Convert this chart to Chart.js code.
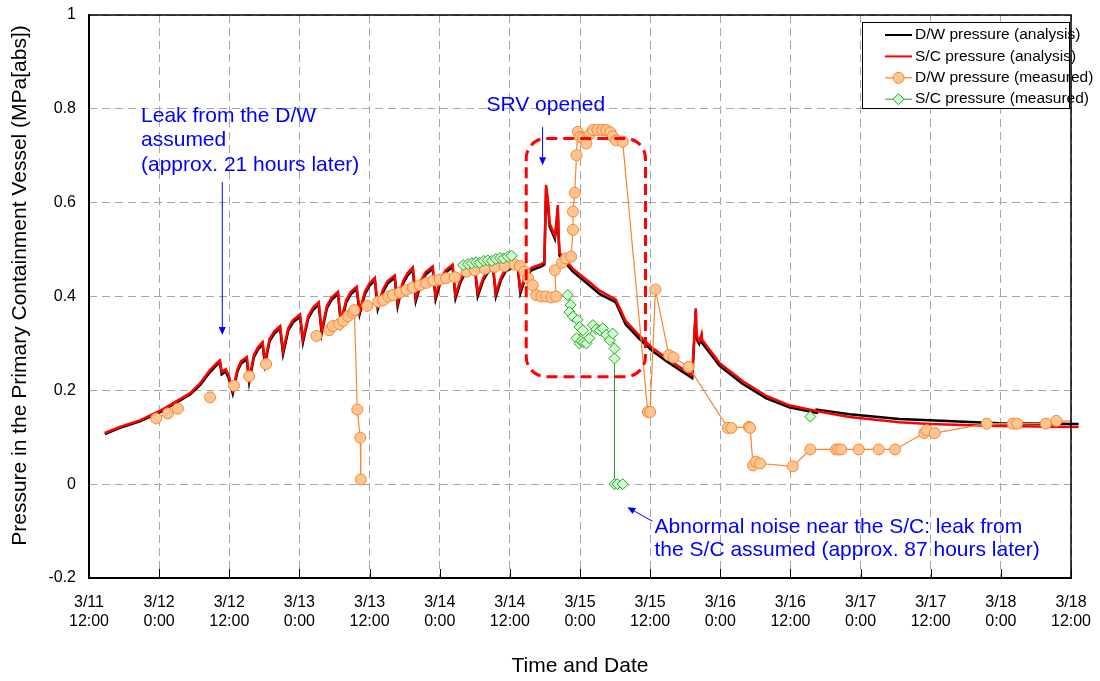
<!DOCTYPE html>
<html>
<head>
<meta charset="utf-8">
<title>PCV pressure</title>
<script src="https://cdn.jsdelivr.net/npm/chart.js@4.4.1/dist/chart.umd.min.js"></script>
<style>
  html, body { margin: 0; padding: 0; background: #fff; }
  #wrap { width: 1100px; height: 681px; }
</style>
</head>
<body>
<div id="wrap"><canvas id="pcvChart" width="1100" height="681"></canvas></div>
<script>
// time axis is hours after 3/11 12:00
const xTickLabels = [
  ['3/11', '12:00'], ['3/12', '0:00'], ['3/12', '12:00'], ['3/13', '0:00'], ['3/13', '12:00'],
  ['3/14', '0:00'], ['3/14', '12:00'], ['3/15', '0:00'], ['3/15', '12:00'], ['3/16', '0:00'],
  ['3/16', '12:00'], ['3/17', '0:00'], ['3/17', '12:00'], ['3/18', '0:00'], ['3/18', '12:00']
];
const yTickLabels = ['-0.2', '0', '0.2', '0.4', '0.6', '0.8', '1'];
const yTitle = 'Pressure in the Primary Containment Vessel (MPa[abs])';

// D/W pressure (analysis)
const dwCalcHours = [2.7, 5.3, 8.7, 12.1, 14.7, 17.3, 19.0, 20.7, 22.0, 22.4, 22.7, 23.4, 23.9,
  24.6, 25.4, 26.0, 27.0, 27.4, 28.2, 28.9, 29.7, 30.1, 30.9, 31.7, 32.7, 33.2, 34.1, 34.9, 36.1,
  36.6, 37.5, 38.3, 39.3, 39.8, 40.7, 41.5, 42.6, 43.1, 44.0, 44.8, 45.8, 46.3, 47.2, 48.0, 48.9,
  49.4, 50.3, 51.1, 52.3, 52.8, 53.7, 54.5, 55.4, 55.9, 56.8, 57.6, 58.8, 59.3, 60.2, 61.0, 62.2,
  62.7, 63.6, 64.4, 66.0, 66.5, 67.4, 68.2, 69.1, 69.6, 70.5, 71.3, 73.3, 73.8, 74.7, 75.7, 77.4, 77.9,
  78.2, 78.5, 78.8, 79.7, 80.0, 80.2, 80.3, 80.5, 82.7, 85.6, 87.4, 90.1, 91.8, 94.2, 96.4, 98.8, 101.0, 103.2,
  103.6, 103.8, 103.9, 104.1, 104.4, 104.8, 104.9, 107.9, 111.8, 115.9, 119.8, 124.4, 124.5, 130.1,
  138.6, 143.8, 155.7, 169.3];
const dwCalcMPa = [0.107, 0.12, 0.134, 0.153, 0.172, 0.191, 0.211, 0.239, 0.256, 0.259, 0.234, 0.24, 0.226,
  0.193, 0.24, 0.257, 0.266, 0.217, 0.27, 0.287, 0.298, 0.255, 0.305, 0.321, 0.332, 0.277, 0.328, 0.345, 0.357,
  0.302, 0.353, 0.371, 0.383, 0.321, 0.375, 0.393, 0.405, 0.341, 0.387, 0.405, 0.416, 0.362, 0.405, 0.423, 0.435,
  0.373, 0.41, 0.428, 0.44, 0.379, 0.427, 0.445, 0.457, 0.39, 0.429, 0.447, 0.459, 0.394, 0.433, 0.451, 0.463,
  0.396, 0.432, 0.45, 0.462, 0.4, 0.433, 0.451, 0.463, 0.4, 0.436, 0.454, 0.466, 0.407, 0.441, 0.456, 0.464, 0.468,
  0.63, 0.6, 0.55, 0.523, 0.556, 0.588, 0.536, 0.487, 0.454, 0.424, 0.405, 0.388, 0.341, 0.309, 0.284, 0.262, 0.244, 0.226,
  0.32, 0.37, 0.32, 0.305, 0.299, 0.314, 0.301, 0.252, 0.214, 0.183, 0.164, 0.152, 0.159, 0.149,
  0.139, 0.136, 0.13, 0.128];

// S/C pressure (analysis)
const scCalcHours = [2.7, 5.3, 8.7, 12.1, 14.7, 17.3, 19.0, 20.7, 22.0, 22.4, 22.7, 23.4, 23.9,
  24.6, 25.4, 26.0, 27.0, 27.4, 28.2, 28.9, 29.7, 30.1, 30.9, 31.7, 32.7, 33.2, 34.1, 34.9, 36.1,
  36.6, 37.5, 38.3, 39.3, 39.8, 40.7, 41.5, 42.6, 43.1, 44.0, 44.8, 45.8, 46.3, 47.2, 48.0, 48.9,
  49.4, 50.3, 51.1, 52.3, 52.8, 53.7, 54.5, 55.4, 55.9, 56.8, 57.6, 58.8, 59.3, 60.2, 61.0, 62.2,
  62.7, 63.6, 64.4, 66.0, 66.5, 67.4, 68.2, 69.1, 69.6, 70.5, 71.3, 73.3, 73.8, 74.7, 75.7, 77.4, 77.9,
  78.2, 78.5, 78.8, 79.7, 80.0, 80.2, 80.3, 80.5, 82.7, 85.6, 87.4, 90.1, 91.8, 94.2, 96.4, 98.8, 101.0, 103.2,
  103.6, 103.8, 103.9, 104.1, 104.4, 104.8, 104.9, 107.9, 111.8, 115.9, 119.8, 124.4, 130.1,
  138.6, 143.8, 155.7, 169.3];
const scCalcMPa = [0.109, 0.122, 0.136, 0.156, 0.175, 0.194, 0.215, 0.243, 0.26, 0.264, 0.239, 0.245, 0.232,
  0.2, 0.245, 0.262, 0.271, 0.224, 0.275, 0.292, 0.303, 0.262, 0.31, 0.326, 0.337, 0.284, 0.333, 0.35, 0.362,
  0.309, 0.358, 0.376, 0.388, 0.328, 0.38, 0.398, 0.41, 0.348, 0.392, 0.41, 0.421, 0.369, 0.41, 0.428, 0.44,
  0.38, 0.415, 0.433, 0.445, 0.386, 0.432, 0.45, 0.462, 0.397, 0.434, 0.452, 0.464, 0.401, 0.438, 0.456, 0.468,
  0.403, 0.437, 0.455, 0.467, 0.407, 0.438, 0.456, 0.468, 0.407, 0.441, 0.459, 0.471, 0.414, 0.446, 0.461, 0.469, 0.473,
  0.638, 0.606, 0.556, 0.529, 0.563, 0.595, 0.542, 0.493, 0.46, 0.431, 0.412, 0.394, 0.348, 0.316, 0.29, 0.269, 0.25, 0.232,
  0.328, 0.375, 0.328, 0.311, 0.305, 0.32, 0.307, 0.258, 0.22, 0.188, 0.168, 0.156, 0.143,
  0.132, 0.128, 0.124, 0.122];

// D/W pressure (measured), null = break in the record
const dwMeasHours = [11.5, 13.5, 15.2, null, 20.7, null, 24.8, null, 27.4, null, 30.3, null, 38.9, null,
  41.1, 41.7, 42.8, 43.5, 44.3, 45.1, 45.4, 45.9, 46.4, 46.5, null,
  47.6, 49.5, 50.3, 51.2, 52.0, 53.2, 54.3, 55.4, 56.6, 57.7, 58.9, 60.0, 61.1, 62.6, 64.6, 66.0, 67.7, 69.4, 71.1, 72.8,
  73.7, 74.5, 75.1, 75.9, 76.5, 77.4, 78.2, 79.1, 79.9, 79.7, 80.9, 81.6, 82.5, 82.8, 82.8, 83.1, 83.4, 83.6, 84.0, 84.5,
  85.1, 85.6, 86.2, 87.0, 87.8, 88.5, 89.2, 89.6, 90.2, 91.3, 95.6, 96.0, 96.9, 99.2, 100.0, 102.6, 109.3, 109.9, 112.9, 113.1,
  113.6, 114.1, 114.8, 120.4, 123.4, 127.8, 128.2, 128.7, 131.7, 135.1, 137.9, 142.9, 143.3, 144.7, 153.6, 158.0, 158.8, 163.7,
  165.5, 170.0];
const dwMeasMPa = [0.14, 0.151, 0.161, null, 0.185, null, 0.21, null, 0.23, null, 0.256, null, 0.316, null,
  0.328, 0.337, 0.341, 0.348, 0.358, 0.365, 0.371, 0.159, 0.099, 0.01, null,
  0.38, 0.389, 0.392, 0.4, 0.403, 0.408, 0.414, 0.419, 0.424, 0.429, 0.434, 0.436, 0.439, 0.441, 0.453, 0.456, 0.459, 0.463, 0.465, 0.468,
  0.465, 0.453, 0.439, 0.424, 0.403, 0.4, 0.4, 0.398, 0.4, 0.456, 0.472, 0.481, 0.485, 0.542, 0.581, 0.621, 0.701, 0.751, 0.74, 0.738,
  0.726, 0.745, 0.755, 0.755, 0.755, 0.755, 0.75, 0.741, 0.733, 0.73, 0.154, 0.154, 0.415, 0.275, 0.27, 0.25, 0.12, 0.12, 0.122, 0.12,
  0.04, 0.048, 0.044, 0.038, 0.074, 0.074, 0.074, 0.074, 0.074, 0.074, 0.074, 0.109, 0.115, 0.109, 0.129, 0.129, 0.129, 0.129,
  0.135, 0.134];

// S/C pressure (measured)
const scMeasHours = [64.0, 64.8, 65.5, 66.2, 66.8, 67.5, 68.2, 68.9, 69.6, 70.3, 70.9, 71.6, 72.3, null,
  81.9, 82.4, 82.2, 82.8, 83.6, 83.9, 84.5, 83.4, 83.9, 84.2, 84.6, 85.1, 85.6, 86.2, 86.8, 87.4, 87.9, 88.5, 89.1, 89.6,
  89.9, 89.9, 89.9, 90.4, 91.3, null, 123.4];
const scMeasMPa = [0.467, 0.469, 0.471, 0.473, 0.472, 0.476, 0.477, 0.476, 0.48, 0.482, 0.481, 0.485, 0.487, null,
  0.403, 0.382, 0.367, 0.357, 0.35, 0.335, 0.328, 0.311, 0.3, 0.305, 0.302, 0.3, 0.311, 0.339, 0.33, 0.328, 0.332, 0.318, 0.307, 0.321,
  0.289, 0.268, 0.0, 0.0, 0.0, null, 0.144];

function toPoints(hours, values) {
  return hours.map((h, i) => ({ x: h, y: values[i] }));
}

const fontFamily = "'Liberation Sans', Arial, sans-serif";
Chart.defaults.font.family = fontFamily;
Chart.defaults.color = '#000';

function drawMarker(ctx, style, cx, cy, r) {
  ctx.beginPath();
  if (style === 'rectRot') {
    ctx.moveTo(cx, cy - r);
    ctx.lineTo(cx + r, cy);
    ctx.lineTo(cx, cy + r);
    ctx.lineTo(cx - r, cy);
    ctx.closePath();
  } else {
    ctx.arc(cx, cy, r, 0, Math.PI * 2);
  }
  ctx.fill();
  ctx.stroke();
}

function drawArrow(ctx, x1, y1, x2, y2) {
  const ang = Math.atan2(y2 - y1, x2 - x1);
  const len = 8, half = 3.5;
  ctx.beginPath();
  ctx.moveTo(x1, y1);
  ctx.lineTo(x2 - Math.cos(ang) * len, y2 - Math.sin(ang) * len);
  ctx.stroke();
  ctx.beginPath();
  ctx.moveTo(x2, y2);
  ctx.lineTo(x2 - Math.cos(ang) * len - Math.sin(ang) * half, y2 - Math.sin(ang) * len + Math.cos(ang) * half);
  ctx.lineTo(x2 - Math.cos(ang) * len + Math.sin(ang) * half, y2 - Math.sin(ang) * len - Math.cos(ang) * half);
  ctx.closePath();
  ctx.fill();
}

function roundedRect(ctx, x0, y0, x1, y1, r) {
  ctx.beginPath();
  ctx.moveTo(x0 + r, y0);
  ctx.arcTo(x1, y0, x1, y1, r);
  ctx.arcTo(x1, y1, x0, y1, r);
  ctx.arcTo(x0, y1, x0, y0, r);
  ctx.arcTo(x0, y0, x1, y0, r);
  ctx.closePath();
}

// frame, inner ticks, notes, y title and the boxed legend
const frameAndNotes = {
  id: 'frameAndNotes',
  afterDatasetsDraw(chart) {
    const { ctx, chartArea: a, scales: { x, y } } = chart;
    ctx.save();

    // tick marks pointing into the plot
    ctx.strokeStyle = '#000';
    ctx.lineWidth = 1;
    x.ticks.forEach(t => {
      const px = Math.round(x.getPixelForValue(t.value)) + 0.5;
      ctx.beginPath();
      ctx.moveTo(px, a.bottom);
      ctx.lineTo(px, a.bottom - 9);
      ctx.stroke();
    });

    // plot frame
    ctx.lineWidth = 1.5;
    ctx.beginPath();
    ctx.moveTo(a.left, a.top);
    ctx.lineTo(a.right, a.top);
    ctx.lineTo(a.right, a.bottom);
    ctx.stroke();
    ctx.lineWidth = 2;
    ctx.beginPath();
    ctx.moveTo(a.left, a.top - 1);
    ctx.lineTo(a.left, a.bottom);
    ctx.lineTo(a.right + 1, a.bottom);
    ctx.stroke();

    // y axis title, sitting a little above the plot centre as in the source
    ctx.save();
    ctx.translate(20, a.top + a.height / 2 - 11);
    ctx.rotate(-Math.PI / 2);
    ctx.fillStyle = '#000';
    ctx.font = '21px ' + fontFamily;
    ctx.textAlign = 'center';
    ctx.textBaseline = 'middle';
    ctx.fillText(yTitle, 0, 0);
    ctx.restore();

    // red dashed box around the SRV period
    ctx.strokeStyle = '#FF0000';
    ctx.lineWidth = 3;
    ctx.setLineDash([11, 6]);
    roundedRect(ctx, x.getPixelForValue(74.8), y.getPixelForValue(0.737),
      x.getPixelForValue(95.2), y.getPixelForValue(0.229), 20);
    ctx.stroke();
    ctx.setLineDash([]);

    // blue notes
    ctx.fillStyle = '#0000FF';
    ctx.strokeStyle = '#0000FF';
    ctx.lineWidth = 1;
    ctx.font = '21px ' + fontFamily;
    ctx.textBaseline = 'middle';
    ctx.textAlign = 'left';
    const lh = 24.5;
    const leakX = x.getPixelForValue(8.9), leakY = y.getPixelForValue(0.785);
    ['Leak from the D/W', 'assumed', '(approx. 21 hours later)'].forEach((s, i) => ctx.fillText(s, leakX, leakY + i * lh));
    drawArrow(ctx, x.getPixelForValue(22.8), y.getPixelForValue(0.644), x.getPixelForValue(22.8), y.getPixelForValue(0.318));

    ctx.fillText('SRV opened', x.getPixelForValue(68.0), y.getPixelForValue(0.808));
    drawArrow(ctx, x.getPixelForValue(77.6), y.getPixelForValue(0.761), x.getPixelForValue(77.6), y.getPixelForValue(0.68));

    const noiseX = x.getPixelForValue(96.75), noiseY = y.getPixelForValue(-0.092);
    ['Abnormal noise near the S/C: leak from', 'the S/C assumed (approx. 87 hours later)']
      .forEach((s, i) => ctx.fillText(s, noiseX, noiseY + i * 23));
    drawArrow(ctx, x.getPixelForValue(96.4), y.getPixelForValue(-0.079), x.getPixelForValue(92.1), y.getPixelForValue(-0.049));

    // legend
    const right = a.right - 2, left = right - 207, top = a.top + 7, bottom = top + 86;
    ctx.fillStyle = '#fff';
    ctx.fillRect(left, top, right - left, bottom - top);
    ctx.strokeStyle = '#000';
    ctx.lineWidth = 1;
    ctx.strokeRect(left + 0.5, top + 0.5, right - left, bottom - top);
    ctx.font = '15.5px ' + fontFamily;
    chart.data.datasets.forEach((ds, i) => {
      const ry = top + 13 + i * 21.4;
      ctx.strokeStyle = ds.borderColor;
      ctx.lineWidth = Math.min(ds.borderWidth, 2);
      ctx.beginPath();
      ctx.moveTo(left + 23, ry);
      ctx.lineTo(left + 50, ry);
      ctx.stroke();
      if (ds.pointRadius > 0) {
        ctx.fillStyle = ds.pointBackgroundColor;
        ctx.strokeStyle = ds.pointBorderColor;
        ctx.lineWidth = 1;
        drawMarker(ctx, ds.pointStyle, left + 36.5, ry, ds.pointRadius);
      }
      ctx.fillStyle = '#000';
      ctx.fillText(ds.label, left + 53, ry);
    });
    ctx.restore();
  }
};

const gridStyle = {
  color: '#a6a6a6',
  lineWidth: 1,
  drawTicks: false
};

new Chart(document.getElementById('pcvChart'), {
  type: 'scatter',
  data: {
    datasets: [
      {
        label: 'D/W pressure (analysis)',
        data: toPoints(dwCalcHours, dwCalcMPa),
        showLine: true,
        borderColor: '#000000',
        borderWidth: 2.5,
        pointRadius: 0,
        order: 4,
        clip: { left: 0, top: 0, right: 8, bottom: 0 }
      },
      {
        label: 'S/C pressure (analysis)',
        data: toPoints(scCalcHours, scCalcMPa),
        showLine: true,
        borderColor: '#FF0000',
        borderWidth: 2.5,
        pointRadius: 0,
        order: 3,
        clip: { left: 0, top: 0, right: 8, bottom: 0 }
      },
      {
        label: 'D/W pressure (measured)',
        data: toPoints(dwMeasHours, dwMeasMPa),
        showLine: true,
        spanGaps: false,
        borderColor: '#F7862F',
        borderWidth: 1.2,
        pointStyle: 'circle',
        pointRadius: 5.5,
        pointBackgroundColor: '#FFC591',
        pointBorderColor: '#F7862F',
        pointBorderWidth: 1,
        order: 2,
        clip: 0
      },
      {
        label: 'S/C pressure (measured)',
        data: toPoints(scMeasHours, scMeasMPa),
        showLine: true,
        spanGaps: false,
        borderColor: '#2E9B2E',
        borderWidth: 1,
        pointStyle: 'rectRot',
        pointRadius: 5.5,
        pointBackgroundColor: '#CCFFCC',
        pointBorderColor: '#2E9B2E',
        pointBorderWidth: 1,
        order: 1,
        clip: 0
      }
    ]
  },
  options: {
    responsive: false,
    animation: false,
    events: [],
    layout: { padding: { top: 15, right: 29, left: 0, bottom: 0 } },
    plugins: {
      legend: { display: false },
      tooltip: { enabled: false }
    },
    scales: {
      x: {
        type: 'linear',
        min: 0,
        max: 168,
        afterFit: s => {
          s.height = 103;
          s.paddingLeft = 0;
          s.paddingRight = 0;
        },
        border: { display: false, dash: [8, 5] },
        grid: { ...gridStyle },
        ticks: {
          stepSize: 12,
          autoSkip: false,
          maxRotation: 0,
          padding: 15,
          font: { size: 16 },
          callback: (v, i) => xTickLabels[i]
        },
        title: {
          display: true,
          text: 'Time and Date',
          font: { size: 21 },
          padding: { top: 0, bottom: 2 }
        }
      },
      y: {
        type: 'linear',
        min: -0.2,
        max: 1,
        afterFit: s => {
          s.width = 89;
          s.paddingTop = 0;
          s.paddingBottom = 0;
        },
        border: { display: false, dash: [8, 5] },
        grid: { ...gridStyle },
        ticks: {
          stepSize: 0.2,
          padding: 13,
          font: { size: 16 },
          callback: (v, i) => yTickLabels[i]
        },
        title: { display: false }
      }
    }
  },
  plugins: [frameAndNotes]
});
</script>
</body>
</html>
